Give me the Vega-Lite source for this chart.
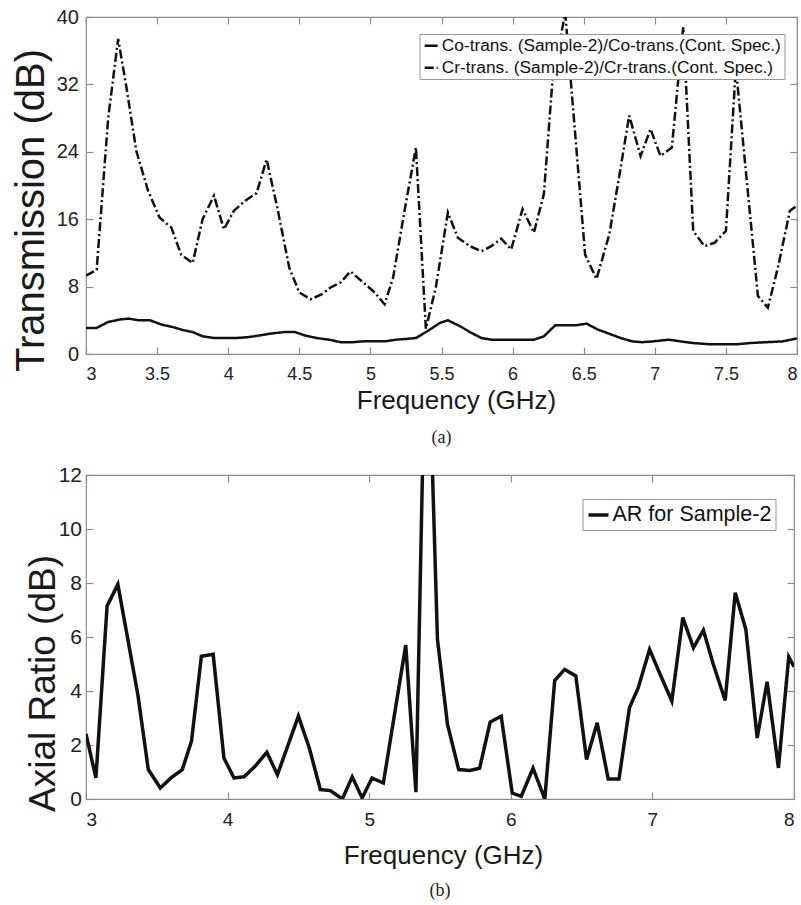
{
  "$schema": "https://vega.github.io/schema/vega-lite/v6.json",
  "background": "white",
  "padding": {"left": 10, "top": 6, "right": 0, "bottom": 0},
  "spacing": 15,
  "resolve": {"legend": {"color": "independent", "strokeDash": "independent"}},
  "config": {
    "view": {"stroke": "#8c8c8c", "strokeWidth": 1.2},
    "axis": {"grid": false, "domain": false, "tickColor": "#8c8c8c", "tickSize": -7, "tickWidth": 1.2, "labelColor": "#222", "labelFont": "Liberation Sans", "titleFont": "Liberation Sans", "titleColor": "#1a1a1a", "titleFontWeight": "normal"},
    "legend": {"labelFont": "Liberation Sans", "labelColor": "#111"},
    "title": {"font": "Liberation Serif", "fontWeight": "normal", "color": "#222"}
  },
  "vconcat": [
    {
      "width": 711,
      "height": 337,
      "title": {"text": "(a)", "orient": "bottom", "fontSize": 18, "offset": 16, "anchor": "middle"},
      "data": {"values": [
        {"f": 3.0, "v": 3.1, "s": "Co"}, {"f": 3.075, "v": 3.1, "s": "Co"}, {"f": 3.156, "v": 3.8, "s": "Co"}, {"f": 3.24, "v": 4.1, "s": "Co"}, {"f": 3.3, "v": 4.2, "s": "Co"}, {"f": 3.37, "v": 4.0, "s": "Co"}, {"f": 3.45, "v": 4.0, "s": "Co"}, {"f": 3.53, "v": 3.5, "s": "Co"}, {"f": 3.61, "v": 3.2, "s": "Co"}, {"f": 3.68, "v": 2.85, "s": "Co"}, {"f": 3.75, "v": 2.6, "s": "Co"}, {"f": 3.82, "v": 2.1, "s": "Co"}, {"f": 3.9, "v": 1.9, "s": "Co"}, {"f": 3.97, "v": 1.9, "s": "Co"}, {"f": 4.06, "v": 1.9, "s": "Co"}, {"f": 4.14, "v": 2.0, "s": "Co"}, {"f": 4.22, "v": 2.2, "s": "Co"}, {"f": 4.29, "v": 2.4, "s": "Co"}, {"f": 4.39, "v": 2.6, "s": "Co"}, {"f": 4.47, "v": 2.6, "s": "Co"}, {"f": 4.54, "v": 2.2, "s": "Co"}, {"f": 4.62, "v": 1.9, "s": "Co"}, {"f": 4.71, "v": 1.7, "s": "Co"}, {"f": 4.79, "v": 1.4, "s": "Co"}, {"f": 4.87, "v": 1.4, "s": "Co"}, {"f": 4.95, "v": 1.5, "s": "Co"}, {"f": 5.03, "v": 1.5, "s": "Co"}, {"f": 5.1, "v": 1.5, "s": "Co"}, {"f": 5.18, "v": 1.7, "s": "Co"}, {"f": 5.26, "v": 1.8, "s": "Co"}, {"f": 5.32, "v": 1.9, "s": "Co"}, {"f": 5.4, "v": 2.7, "s": "Co"}, {"f": 5.49, "v": 3.7, "s": "Co"}, {"f": 5.545, "v": 4.0, "s": "Co"}, {"f": 5.63, "v": 3.3, "s": "Co"}, {"f": 5.7, "v": 2.6, "s": "Co"}, {"f": 5.78, "v": 1.9, "s": "Co"}, {"f": 5.85, "v": 1.7, "s": "Co"}, {"f": 6.0, "v": 1.7, "s": "Co"}, {"f": 6.15, "v": 1.7, "s": "Co"}, {"f": 6.22, "v": 2.1, "s": "Co"}, {"f": 6.3, "v": 3.4, "s": "Co"}, {"f": 6.44, "v": 3.4, "s": "Co"}, {"f": 6.52, "v": 3.6, "s": "Co"}, {"f": 6.6, "v": 2.9, "s": "Co"}, {"f": 6.68, "v": 2.4, "s": "Co"}, {"f": 6.76, "v": 1.9, "s": "Co"}, {"f": 6.84, "v": 1.5, "s": "Co"}, {"f": 6.91, "v": 1.4, "s": "Co"}, {"f": 6.99, "v": 1.5, "s": "Co"}, {"f": 7.1, "v": 1.7, "s": "Co"}, {"f": 7.18, "v": 1.5, "s": "Co"}, {"f": 7.27, "v": 1.3, "s": "Co"}, {"f": 7.39, "v": 1.15, "s": "Co"}, {"f": 7.48, "v": 1.15, "s": "Co"}, {"f": 7.57, "v": 1.15, "s": "Co"}, {"f": 7.67, "v": 1.3, "s": "Co"}, {"f": 7.78, "v": 1.4, "s": "Co"}, {"f": 7.9, "v": 1.5, "s": "Co"}, {"f": 8.0, "v": 1.85, "s": "Co"},
        {"f": 3.0, "v": 9.3, "s": "Cr"}, {"f": 3.075, "v": 10.0, "s": "Cr"}, {"f": 3.156, "v": 28.0, "s": "Cr"}, {"f": 3.226, "v": 37.4, "s": "Cr"}, {"f": 3.285, "v": 31.6, "s": "Cr"}, {"f": 3.354, "v": 24.1, "s": "Cr"}, {"f": 3.436, "v": 19.4, "s": "Cr"}, {"f": 3.517, "v": 16.2, "s": "Cr"}, {"f": 3.6, "v": 15.0, "s": "Cr"}, {"f": 3.669, "v": 11.8, "s": "Cr"}, {"f": 3.75, "v": 10.8, "s": "Cr"}, {"f": 3.82, "v": 16.0, "s": "Cr"}, {"f": 3.9, "v": 18.8, "s": "Cr"}, {"f": 3.97, "v": 14.8, "s": "Cr"}, {"f": 4.04, "v": 17.0, "s": "Cr"}, {"f": 4.12, "v": 18.2, "s": "Cr"}, {"f": 4.2, "v": 19.1, "s": "Cr"}, {"f": 4.27, "v": 23.1, "s": "Cr"}, {"f": 4.345, "v": 17.4, "s": "Cr"}, {"f": 4.43, "v": 10.2, "s": "Cr"}, {"f": 4.5, "v": 7.3, "s": "Cr"}, {"f": 4.58, "v": 6.5, "s": "Cr"}, {"f": 4.66, "v": 7.1, "s": "Cr"}, {"f": 4.72, "v": 7.9, "s": "Cr"}, {"f": 4.79, "v": 8.5, "s": "Cr"}, {"f": 4.86, "v": 9.8, "s": "Cr"}, {"f": 4.95, "v": 8.5, "s": "Cr"}, {"f": 5.03, "v": 7.3, "s": "Cr"}, {"f": 5.1, "v": 5.9, "s": "Cr"}, {"f": 5.16, "v": 9.1, "s": "Cr"}, {"f": 5.24, "v": 17.0, "s": "Cr"}, {"f": 5.32, "v": 24.5, "s": "Cr"}, {"f": 5.39, "v": 3.0, "s": "Cr"}, {"f": 5.46, "v": 7.9, "s": "Cr"}, {"f": 5.545, "v": 16.8, "s": "Cr"}, {"f": 5.615, "v": 13.8, "s": "Cr"}, {"f": 5.7, "v": 12.8, "s": "Cr"}, {"f": 5.78, "v": 12.2, "s": "Cr"}, {"f": 5.85, "v": 12.8, "s": "Cr"}, {"f": 5.92, "v": 13.7, "s": "Cr"}, {"f": 5.99, "v": 12.4, "s": "Cr"}, {"f": 6.07, "v": 17.2, "s": "Cr"}, {"f": 6.15, "v": 14.4, "s": "Cr"}, {"f": 6.22, "v": 19.0, "s": "Cr"}, {"f": 6.28, "v": 32.4, "s": "Cr"}, {"f": 6.37, "v": 40.5, "s": "Cr"}, {"f": 6.51, "v": 11.8, "s": "Cr"}, {"f": 6.59, "v": 8.9, "s": "Cr"}, {"f": 6.68, "v": 14.2, "s": "Cr"}, {"f": 6.75, "v": 21.1, "s": "Cr"}, {"f": 6.82, "v": 28.3, "s": "Cr"}, {"f": 6.9, "v": 23.5, "s": "Cr"}, {"f": 6.97, "v": 26.7, "s": "Cr"}, {"f": 7.04, "v": 23.5, "s": "Cr"}, {"f": 7.12, "v": 24.5, "s": "Cr"}, {"f": 7.2, "v": 38.8, "s": "Cr"}, {"f": 7.27, "v": 14.6, "s": "Cr"}, {"f": 7.35, "v": 12.8, "s": "Cr"}, {"f": 7.42, "v": 13.2, "s": "Cr"}, {"f": 7.5, "v": 14.6, "s": "Cr"}, {"f": 7.57, "v": 34.0, "s": "Cr"}, {"f": 7.725, "v": 6.9, "s": "Cr"}, {"f": 7.795, "v": 5.5, "s": "Cr"}, {"f": 7.865, "v": 10.2, "s": "Cr"}, {"f": 7.95, "v": 17.0, "s": "Cr"}, {"f": 8.0, "v": 17.6, "s": "Cr"}
      ]},
      "layer": [
        {
          "mark": {"type": "line", "clip": true, "strokeWidth": 2.5, "color": "#111"},
          "encoding": {
            "x": {"field": "f", "type": "quantitative", "scale": {"domain": [3, 8], "nice": false},
              "axis": {"orient": "bottom", "values": [3, 3.5, 4, 4.5, 5, 5.5, 6, 6.5, 7, 7.5, 8], "labelExpr": "'' + datum.value", "labelFontSize": 18, "labelPadding": 18, "title": "Frequency (GHz)", "titleFontSize": 26, "titleX": 370, "titleY": 54, "titleBaseline": "alphabetic", "titleAlign": "center"}},
            "y": {"field": "v", "type": "quantitative", "scale": {"domain": [0, 40], "nice": false, "zero": false},
              "axis": {"orient": "left", "values": [0, 8, 16, 24, 32, 40], "labelFontSize": 20, "labelPadding": 14.5, "title": "Transmission (dB)", "titleFontSize": 40, "titleX": -42.5, "titleY": 193, "titleBaseline": "alphabetic", "titleAlign": "center", "titleAngle": 270}},
            "strokeDash": {"field": "s", "type": "nominal", "scale": {"domain": ["Co", "Cr"], "range": [[1, 0], [9, 3, 2, 3]]},
              "legend": {"orient": "none", "legendX": 333.5, "legendY": 17, "title": null, "symbolType": "stroke", "symbolSize": 170, "symbolStrokeWidth": 2.5, "symbolStrokeColor": "#111", "labelFontSize": 17.3, "labelOffset": 2, "rowPadding": 4, "padding": 3, "strokeColor": "#999", "fillColor": "white", "labelLimit": 600,
                "labelExpr": "datum.label == 'Co' ? 'Co-trans. (Sample-2)/Co-trans.(Cont. Spec.)' : 'Cr-trans. (Sample-2)/Cr-trans.(Cont. Spec.)'"}}
          }
        },
        {
          "mark": {"type": "line", "clip": true, "opacity": 0},
          "encoding": {
            "x": {"field": "f", "type": "quantitative", "axis": {"orient": "top", "values": [3, 3.5, 4, 4.5, 5, 5.5, 6, 6.5, 7, 7.5, 8], "labels": false, "title": null}},
            "y": {"field": "v", "type": "quantitative", "axis": {"orient": "right", "values": [0, 8, 16, 24, 32, 40], "labels": false, "title": null}},
            "detail": {"field": "s"}
          }
        }
      ],
      "resolve": {"axis": {"x": "independent", "y": "independent"}}
    },
    {
      "width": 708,
      "height": 324,
      "title": {"text": "(b)", "orient": "bottom", "fontSize": 18, "offset": 14, "anchor": "middle"},
      "data": {"values": [
        {"f": 3.0, "v": 2.41, "s": "AR for Sample-2"}, {"f": 3.07, "v": 0.78, "s": "AR for Sample-2"}, {"f": 3.149, "v": 7.15, "s": "AR for Sample-2"}, {"f": 3.225, "v": 7.95, "s": "AR for Sample-2"}, {"f": 3.366, "v": 3.87, "s": "AR for Sample-2"}, {"f": 3.44, "v": 1.09, "s": "AR for Sample-2"}, {"f": 3.525, "v": 0.41, "s": "AR for Sample-2"}, {"f": 3.6, "v": 0.78, "s": "AR for Sample-2"}, {"f": 3.68, "v": 1.09, "s": "AR for Sample-2"}, {"f": 3.745, "v": 2.14, "s": "AR for Sample-2"}, {"f": 3.815, "v": 5.29, "s": "AR for Sample-2"}, {"f": 3.898, "v": 5.36, "s": "AR for Sample-2"}, {"f": 3.974, "v": 1.52, "s": "AR for Sample-2"}, {"f": 4.045, "v": 0.78, "s": "AR for Sample-2"}, {"f": 4.116, "v": 0.82, "s": "AR for Sample-2"}, {"f": 4.194, "v": 1.21, "s": "AR for Sample-2"}, {"f": 4.277, "v": 1.73, "s": "AR for Sample-2"}, {"f": 4.352, "v": 0.9, "s": "AR for Sample-2"}, {"f": 4.5, "v": 3.07, "s": "AR for Sample-2"}, {"f": 4.577, "v": 1.89, "s": "AR for Sample-2"}, {"f": 4.655, "v": 0.35, "s": "AR for Sample-2"}, {"f": 4.726, "v": 0.31, "s": "AR for Sample-2"}, {"f": 4.81, "v": 0.0, "s": "AR for Sample-2"}, {"f": 4.88, "v": 0.82, "s": "AR for Sample-2"}, {"f": 4.95, "v": 0.04, "s": "AR for Sample-2"}, {"f": 5.02, "v": 0.78, "s": "AR for Sample-2"}, {"f": 5.1, "v": 0.59, "s": "AR for Sample-2"}, {"f": 5.258, "v": 5.7, "s": "AR for Sample-2"}, {"f": 5.33, "v": 0.25, "s": "AR for Sample-2"}, {"f": 5.405, "v": 19.5, "s": "AR for Sample-2"}, {"f": 5.482, "v": 5.91, "s": "AR for Sample-2"}, {"f": 5.553, "v": 2.76, "s": "AR for Sample-2"}, {"f": 5.632, "v": 1.09, "s": "AR for Sample-2"}, {"f": 5.71, "v": 1.06, "s": "AR for Sample-2"}, {"f": 5.78, "v": 1.14, "s": "AR for Sample-2"}, {"f": 5.854, "v": 2.85, "s": "AR for Sample-2"}, {"f": 5.932, "v": 3.07, "s": "AR for Sample-2"}, {"f": 6.01, "v": 0.22, "s": "AR for Sample-2"}, {"f": 6.074, "v": 0.1, "s": "AR for Sample-2"}, {"f": 6.157, "v": 1.14, "s": "AR for Sample-2"}, {"f": 6.24, "v": 0.0, "s": "AR for Sample-2"}, {"f": 6.31, "v": 4.39, "s": "AR for Sample-2"}, {"f": 6.38, "v": 4.8, "s": "AR for Sample-2"}, {"f": 6.459, "v": 4.56, "s": "AR for Sample-2"}, {"f": 6.535, "v": 1.46, "s": "AR for Sample-2"}, {"f": 6.61, "v": 2.82, "s": "AR for Sample-2"}, {"f": 6.688, "v": 0.74, "s": "AR for Sample-2"}, {"f": 6.764, "v": 0.74, "s": "AR for Sample-2"}, {"f": 6.838, "v": 3.38, "s": "AR for Sample-2"}, {"f": 6.9, "v": 4.12, "s": "AR for Sample-2"}, {"f": 6.98, "v": 5.54, "s": "AR for Sample-2"}, {"f": 7.055, "v": 4.61, "s": "AR for Sample-2"}, {"f": 7.137, "v": 3.63, "s": "AR for Sample-2"}, {"f": 7.215, "v": 6.72, "s": "AR for Sample-2"}, {"f": 7.29, "v": 5.6, "s": "AR for Sample-2"}, {"f": 7.36, "v": 6.25, "s": "AR for Sample-2"}, {"f": 7.43, "v": 4.99, "s": "AR for Sample-2"}, {"f": 7.514, "v": 3.65, "s": "AR for Sample-2"}, {"f": 7.585, "v": 7.64, "s": "AR for Sample-2"}, {"f": 7.66, "v": 6.28, "s": "AR for Sample-2"}, {"f": 7.74, "v": 2.26, "s": "AR for Sample-2"}, {"f": 7.81, "v": 4.34, "s": "AR for Sample-2"}, {"f": 7.89, "v": 1.15, "s": "AR for Sample-2"}, {"f": 7.963, "v": 5.26, "s": "AR for Sample-2"}, {"f": 8.0, "v": 4.9, "s": "AR for Sample-2"}
      ]},
      "layer": [
        {
          "mark": {"type": "line", "clip": true, "strokeWidth": 3.5, "strokeJoin": "miter"},
          "encoding": {
            "x": {"field": "f", "type": "quantitative", "scale": {"domain": [3, 8], "nice": false},
              "axis": {"orient": "bottom", "values": [3, 4, 5, 6, 7, 8], "labelFontSize": 19, "labelPadding": 18, "title": "Frequency (GHz)", "titleFontSize": 26, "titleX": 357, "titleY": 64, "titleBaseline": "alphabetic", "titleAlign": "center"}},
            "y": {"field": "v", "type": "quantitative", "scale": {"domain": [0, 12], "nice": false, "zero": false},
              "axis": {"orient": "left", "values": [0, 2, 4, 6, 8, 10, 12], "labelFontSize": 21, "labelPadding": 11.5, "title": "Axial Ratio (dB)", "titleFontSize": 37, "titleX": -31.5, "titleY": 208, "titleBaseline": "alphabetic", "titleAlign": "center", "titleAngle": 270}},
            "color": {"field": "s", "type": "nominal", "scale": {"domain": ["AR for Sample-2"], "range": ["#111"]},
              "legend": {"orient": "none", "legendX": 496.5, "legendY": 24, "title": null, "symbolType": "stroke", "symbolSize": 400, "symbolStrokeWidth": 3.5, "labelFontSize": 21.5, "labelOffset": 2, "padding": 4, "strokeColor": "#999", "fillColor": "white", "labelLimit": 400}}
          }
        },
        {
          "mark": {"type": "line", "clip": true, "opacity": 0},
          "encoding": {
            "x": {"field": "f", "type": "quantitative", "axis": {"orient": "top", "values": [3, 4, 5, 6, 7, 8], "labels": false, "title": null}},
            "y": {"field": "v", "type": "quantitative", "axis": {"orient": "right", "values": [0, 2, 4, 6, 8, 10, 12], "labels": false, "title": null}}
          }
        }
      ],
      "resolve": {"axis": {"x": "independent", "y": "independent"}}
    }
  ]
}
